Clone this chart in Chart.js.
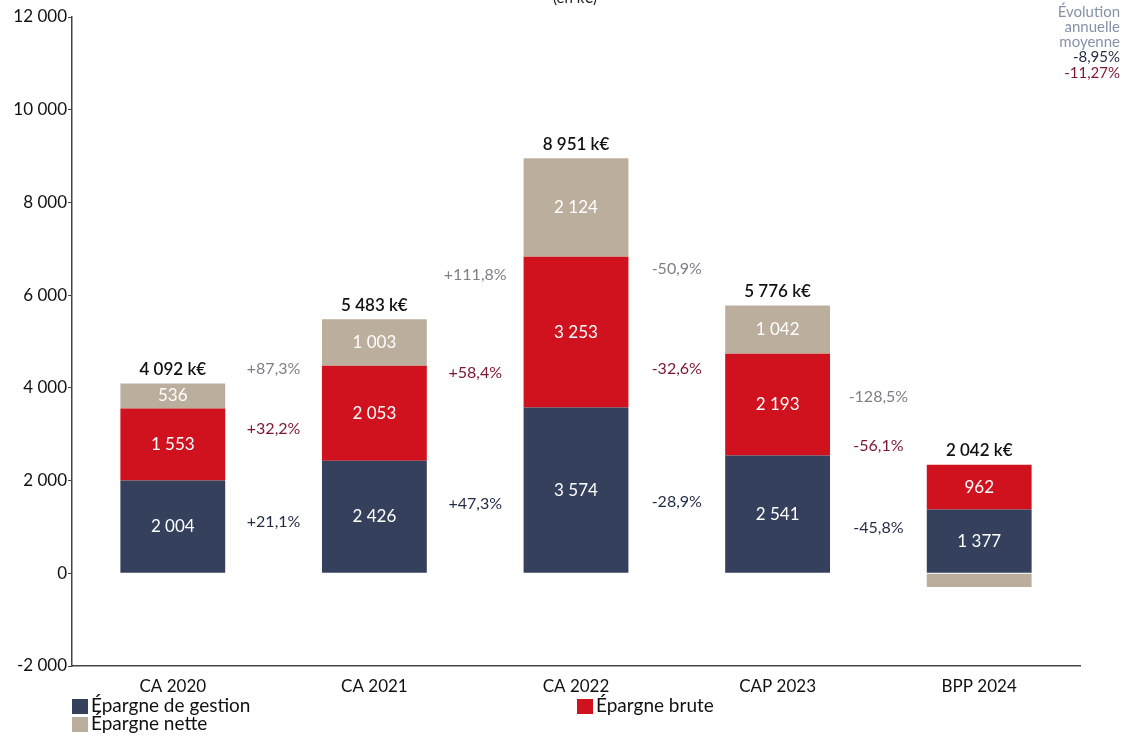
<!DOCTYPE html>
<html><head><meta charset="utf-8">
<script src="https://cdn.jsdelivr.net/npm/chart.js@4"></script>
<style>html,body{margin:0;padding:0;background:#fff}#wrap{position:relative;width:1132px;height:738px}</style>
</head><body><div id="wrap"><canvas id="c" width="1132" height="738"></canvas></div>
<script>
const categories = ['CA 2020','CA 2021','CA 2022','CAP 2023','BPP 2024'];
const gestion = [2004, 2426, 3574, 2541, 1377];
const brute = [1553, 2053, 3253, 2193, 962];
const nette = [536, 1003, 2124, 1042, -297];
const totals = [4092, 5483, 8951, 5776, 2042];
const evolGestion = ['+21,1%','+47,3%','-28,9%','-45,8%'];
const evolBrute = ['+32,2%','+58,4%','-32,6%','-56,1%'];
const evolNette = ['+87,3%','+111,8%','-50,9%','-128,5%'];
const avgEvol = ['-8,95%','-11,27%'];
const yTicks = [-2000, 0, 2000, 4000, 6000, 8000, 10000, 12000];

const FONT = 'Lato';
const C_NAVY = '#34405c', C_RED = '#d0121f', C_BEIGE = '#bcae9d';
const T_NAVY = '#1f2a44', T_RED = '#7a1630', T_GREY = '#7c7f86';

function fmt(n){ const s = Math.abs(n).toString().replace(/\B(?=(\d{3})+(?!\d))/g,' '); return (n<0?'-':'')+s; }

const labelsPlugin = {
  id: 'labelsPlugin',
  afterDatasetsDraw(chart){
    const ctx = chart.ctx, xs = chart.scales.x;
    const metas = [0,1,2].map(i => chart.getDatasetMeta(i));
    const series = [gestion, brute, nette];
    ctx.save();
    ctx.textAlign = 'center'; ctx.textBaseline = 'middle';
    // segment labels
    ctx.fillStyle = '#ffffff'; ctx.font = '17px '+FONT;
    metas.forEach((m, i) => m.data.forEach((el, j) => {
      if (series[i][j] > 0) ctx.fillText(fmt(series[i][j]), el.x, (el.y + el.base)/2);
    }));
    // totals
    const topOf = j => Math.min(...metas.filter((m,i)=>series[i][j]>0).map(m => m.data[j].y));
    ctx.fillStyle = '#111'; ctx.font = '600 17px '+FONT;
    totals.forEach((t, j) => ctx.fillText(fmt(t)+' k€', metas[0].data[j].x, topOf(j) - 14));
    // evolutions
    const posY = (i, j) => series[i][j] > 0 ? (metas[i].data[j].y + metas[i].data[j].base)/2 : topOf(j);
    const ev = [[evolGestion, T_NAVY], [evolBrute, T_RED], [evolNette, T_GREY]];
    ctx.font = '16px '+FONT;
    ev.forEach(([arr, col], i) => arr.forEach((txt, j) => {
      const x = (xs.getPixelForValue(j) + xs.getPixelForValue(j+1))/2;
      const y = (posY(i, j) + posY(i, j+1))/2;
      ctx.fillStyle = col; ctx.fillText(txt, x, y);
    }));
    ctx.restore();
  },
  afterDraw(chart){
    const ctx = chart.ctx;
    ctx.save();
    // title (cut at top)
    ctx.textAlign = 'center'; ctx.textBaseline = 'bottom';
    ctx.fillStyle = '#222'; ctx.font = '15px '+FONT;
    ctx.fillText('(en k€)', 575, 6);
    // average evolution
    ctx.textAlign = 'right'; ctx.textBaseline = 'middle';
    ctx.font = '15px '+FONT; ctx.fillStyle = '#8592a8';
    ['Évolution','annuelle','moyenne'].forEach((t,k)=>ctx.fillText(t, 1120, 12 + k*15));
    ctx.fillStyle = T_NAVY; ctx.fillText(avgEvol[0], 1120, 57);
    ctx.fillStyle = T_RED; ctx.fillText(avgEvol[1], 1120, 73);
    // legend
    ctx.textAlign = 'left';
    ctx.font = '19px '+FONT;
    const items = [['Épargne de gestion', C_NAVY, 72, 706], ['Épargne nette', C_BEIGE, 72, 724], ['Épargne brute', C_RED, 577, 706]];
    items.forEach(([t, c, x, y]) => {
      ctx.fillStyle = c; ctx.fillRect(x, y - 7, 16, 15);
      ctx.fillStyle = '#111'; ctx.fillText(t, x + 19, y);
    });
    ctx.restore();
  }
};

new Chart(document.getElementById('c'), {
  type: 'bar',
  data: {
    labels: categories,
    datasets: [
      { label: 'Épargne de gestion', data: gestion, backgroundColor: C_NAVY },
      { label: 'Épargne brute', data: brute, backgroundColor: C_RED },
      { label: 'Épargne nette', data: nette, backgroundColor: C_BEIGE }
    ]
  },
  options: {
    responsive: false, animation: false,
    layout: { padding: { top: 17, right: 52, left: 0, bottom: 0 } },
    datasets: { bar: { categoryPercentage: 1, barPercentage: 0.52 } },
    plugins: { legend: { display: false }, tooltip: { enabled: false } },
    scales: {
      x: {
        stacked: true,
        grid: { display: false, drawOnChartArea: false },
        border: { display: true, color: '#444', width: 1.5 },
        ticks: { color: '#111', font: { family: FONT, size: 17 }, padding: 2 },
        afterFit(s){ s.height = 72; }
      },
      y: {
        stacked: true, min: -2000, max: 12000,
        afterBuildTicks(s){ s.ticks = yTicks.map(v => ({ value: v })); },
        grid: { drawOnChartArea: false, drawTicks: true, tickLength: 4, color: '#444' },
        border: { display: true, color: '#444', width: 1.5 },
        ticks: { color: '#111', font: { family: FONT, size: 17 }, padding: 1, callback: v => fmt(v) },
        afterFit(s){ s.width = 72; }
      }
    }
  },
  plugins: [labelsPlugin]
});
</script></body></html>
